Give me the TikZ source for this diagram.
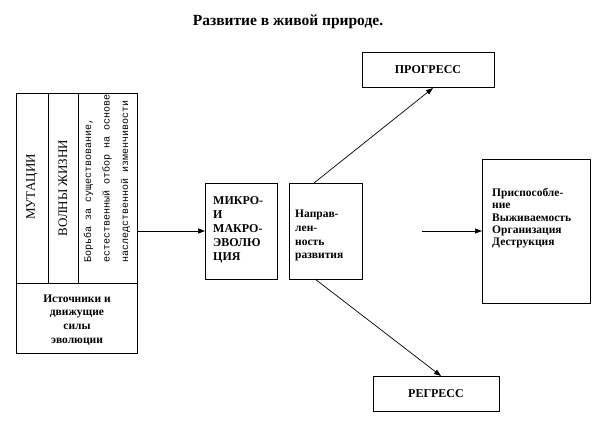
\documentclass[tikz,border=0pt]{standalone}
\usepackage{fontspec}
\setmainfont{Liberation Serif}
\newfontfamily\monofam{Liberation Mono}
\usetikzlibrary{arrows.meta}
\begin{document}
\begin{tikzpicture}[x=1pt,y=-1pt,
  box/.style={draw, line width=0.8pt, inner sep=0pt, outer sep=0pt},
  txt/.style={font=\fontsize{12}{14}\selectfont\bfseries, align=left, inner sep=0pt},
  conn/.style={line width=0.7pt, -{Triangle[length=7pt,width=5pt]}}]
\useasboundingbox (0,0) rectangle (604,425);
% title
\node[font=\fontsize{15.5}{18}\selectfont\bfseries] (title) at (288,22) {Развитие в живой природе.};
% source box
\node[box, minimum width=121pt, minimum height=260pt, anchor=north west] (src) at (16,93) {};
\coordinate (hdivL) at (16,283);
\coordinate (hdivR) at (137,283);
\coordinate (c1t) at (48,93);
\coordinate (c1b) at (48,283);
\coordinate (c2t) at (78,93);
\coordinate (c2b) at (78,283);
\draw[line width=0.8pt] (hdivL) -- (hdivR);
\draw[line width=0.8pt] (c1t) -- (c1b);
\draw[line width=0.8pt] (c2t) -- (c2b);
\node[rotate=90, font=\fontsize{13}{15}\selectfont, inner sep=0pt] (mut) at (32,187) {МУТАЦИИ};
\node[rotate=90, font=\fontsize{13}{15}\selectfont, inner sep=0pt] (waves) at (63,188) {ВОЛНЫ ЖИЗНИ};
\node[rotate=90, anchor=west, font=\monofam\fontsize{10}{18.5}\selectfont, align=left, inner sep=0pt] (strug) at (107,263)
  {Борьба за существование,\\естественный отбор на основе\\наследственной изменчивости};
\node[txt, align=center, font=\fontsize{11.5}{13.7}\selectfont\bfseries] (srcl) at (77,320)
  {Источники и\\движущие\\силы\\эволюции};
% micro box
\node[box, minimum width=72pt, minimum height=96pt, anchor=north west] (micro) at (205,183) {};
\node[txt, anchor=north west, font=\fontsize{12}{14}\selectfont\bfseries] (microt) at (213,196)
  {МИКРО-\\И\\МАКРО-\\ЭВОЛЮ\\ЦИЯ};
% direction box
\node[box, minimum width=73pt, minimum height=96pt, anchor=north west] (dir) at (289,183) {};
\node[txt, anchor=north west, font=\fontsize{11.5}{13.7}\selectfont\bfseries] (dirt) at (295,210)
  {Направ-\\лен-\\ность\\развития};
% progress
\node[box, minimum width=132pt, minimum height=35pt, anchor=north west] (prog) at (362,52) {};
\node[txt] (progt) at (prog.center) {ПРОГРЕСС};
% regress
\node[box, minimum width=126pt, minimum height=35pt, anchor=north west] (reg) at (373,376) {};
\node[txt] (regt) at (reg.center) {РЕГРЕСС};
% right box
\node[box, minimum width=108pt, minimum height=144pt, anchor=north west] (res) at (482,159) {};
\node[txt, anchor=north west, font=\fontsize{11.5}{12.3}\selectfont\bfseries] (rest) at (492,188)
  {Приспособле-\\ние\\Выживаемость\\Организация\\Деструкция};
% connectors
\draw[conn] (src.east |- 0,231) -- (micro.west |- 0,231);
\coordinate (resin) at (422,231);
\draw[conn] (resin) -- (res.west |- resin);
\coordinate (dirtop) at (314,183);
\coordinate (dirbot) at (315,279);
\coordinate (progin) at (433,88);
\coordinate (regin) at (441,376);
\draw[conn] (dirtop) -- (progin);
\draw[conn] (dirbot) -- (regin);
\end{tikzpicture}
\end{document}
